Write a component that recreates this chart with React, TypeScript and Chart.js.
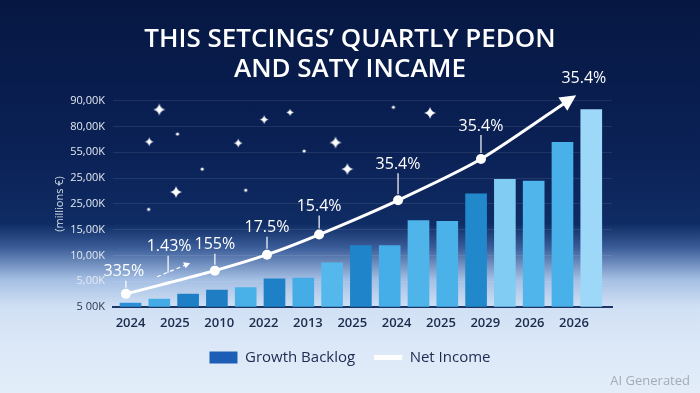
import React, { useEffect, useRef } from 'react';
import { Chart, registerables } from 'chart.js';

Chart.register(...registerables);

// ---- data ----
const titleLines = ['THIS SETCINGS\u2019 QUARTLY PEDON', 'AND SATY INCAME'];
const xLabels = ['2024', '2025', '2010', '2022', '2013', '2025', '2024', '2025', '2029', '2026', '2026'];
// y tick labels, for tick values 0..8 (bottom to top)
const yTickLabels = ['5 00K', '5,00K', '10,00K', '15,00K', '25,00K', '25,00K', '55,00K', '80,00K', '90,00K'];
const yTitle = '(millions \u20ac)';

const backlogValues = [0.15, 0.31, 0.5, 0.66, 0.75, 1.09, 1.12, 1.71, 2.38, 2.38, 3.35, 3.32, 4.39, 4.95, 4.89, 6.39, 7.66];
const barColors = [
  '#2b8fd6', '#45abe6', '#1e7fc6', '#1f7dc4', '#4ab0e8', '#1e80c6', '#45ace6', '#55b8ec', '#1f84c9',
  '#45ade7', '#4fb4ea', '#4ab2e9', '#2288cc', '#80ccf3', '#50b5eb', '#48b1e9', '#9dd8f8',
];

// Net income line (x in bar-index units, y in axis units)
const incomeX = [-0.16, 1.34, 2.93, 4.74, 6.55, 9.29, 12.17, 15.36];
const incomeY = [0.51, 0.94, 1.41, 2.03, 2.81, 4.14, 5.74, 8.13];
const incomeLabels = ['335%', '1.43%', '155%', '17.5%', '15.4%', '35.4%', '35.4%', '35.4%'];
const incomeKinds = ['dot', 'dash', 'dot', 'dot', 'dot', 'dot', 'dot', 'arrow'];

// decorative stars (x in bar-index units, y in axis units)
const starX = [1.0, 4.64, 5.54, 1.63, 0.65, 3.74, 7.12, 6.03, 7.53, 2.49, 1.58, 4.0, 0.63, 9.13, 10.4];
const starY = [7.66, 7.27, 7.55, 6.71, 6.41, 6.36, 6.38, 6.05, 5.35, 5.35, 4.46, 4.53, 3.79, 7.75, 7.53];
const starKinds = ['big', 'mid', 'small', 'dot', 'mid', 'mid', 'big', 'dot', 'big', 'dot', 'big', 'dot', 'dot', 'dot', 'big'];

// ---- layout / style helpers ----
const labelLift = [22, 36, 26, 27, 28, 36, 33, 19];
const labelShiftX = [-2, 0, 0, 0, 0, 0, 0, 11];
const X_MIN = -0.608;
const X_MAX = 16.72;
const LABEL_STEP = 1.54;

function makeSparkle(r: number): HTMLCanvasElement {
  const s = Math.ceil(r * 2 + 4);
  const c = document.createElement('canvas');
  c.width = s;
  c.height = s;
  const g = c.getContext('2d')!;
  const cx = s / 2;
  const cy = s / 2;
  g.fillStyle = '#ffffff';
  if (r < 2.2) {
    g.beginPath();
    g.arc(cx, cy, r, 0, Math.PI * 2);
    g.fill();
    return c;
  }
  const k = r * 0.18;
  g.beginPath();
  g.moveTo(cx, cy - r);
  g.quadraticCurveTo(cx + k, cy - k, cx + r, cy);
  g.quadraticCurveTo(cx + k, cy + k, cx, cy + r);
  g.quadraticCurveTo(cx - k, cy + k, cx - r, cy);
  g.quadraticCurveTo(cx - k, cy - k, cx, cy - r);
  g.fill();
  g.beginPath();
  g.arc(cx, cy, r * 0.3, 0, Math.PI * 2);
  g.fill();
  return c;
}

const annotationPlugin = {
  id: 'incomeAnnotations',
  afterDatasetsDraw(chart: any) {
    const meta = chart.getDatasetMeta(1);
    const ctx = chart.ctx as CanvasRenderingContext2D;
    const pts = meta.data;
    ctx.save();
    ctx.fillStyle = '#ffffff';
    ctx.strokeStyle = '#ffffff';
    ctx.font = '16px "Open Sans", sans-serif';
    ctx.textAlign = 'center';
    ctx.textBaseline = 'middle';
    pts.forEach((p: any, i: number) => {
      const kind = incomeKinds[i];
      const tx = p.x + labelShiftX[i];
      const ty = p.y - labelLift[i];
      ctx.fillText(incomeLabels[i], tx, ty);
      ctx.lineWidth = 1.2;
      ctx.setLineDash([]);
      if (kind === 'dot') {
        ctx.beginPath();
        ctx.moveTo(p.x, ty + 9);
        ctx.lineTo(p.x, p.y - 6);
        ctx.stroke();
      } else if (kind === 'dash') {
        ctx.beginPath();
        ctx.moveTo(p.x - 1, ty + 9);
        ctx.lineTo(p.x - 1, p.y - 10);
        ctx.stroke();
        ctx.setLineDash([4, 3]);
        ctx.beginPath();
        ctx.moveTo(p.x - 12, p.y - 6);
        ctx.lineTo(p.x + 17, p.y - 18);
        ctx.stroke();
        ctx.setLineDash([]);
        ctx.beginPath();
        ctx.moveTo(p.x + 21, p.y - 19.5);
        ctx.lineTo(p.x + 14, p.y - 20.5);
        ctx.lineTo(p.x + 16.5, p.y - 14.5);
        ctx.closePath();
        ctx.fill();
      } else if (kind === 'arrow') {
        let dx = p.x - (p.cp1x ?? pts[i - 1].x);
        let dy = p.y - (p.cp1y ?? pts[i - 1].y);
        if (Math.hypot(dx, dy) < 1) {
          dx = p.x - pts[i - 1].x;
          dy = p.y - pts[i - 1].y;
        }
        const len = Math.hypot(dx, dy);
        const ux = dx / len;
        const uy = dy / len;
        const nx = -uy;
        const ny = ux;
        const tipX = p.x + ux * 4;
        const tipY = p.y + uy * 4;
        const bx = p.x - ux * 12;
        const by = p.y - uy * 12;
        ctx.beginPath();
        ctx.moveTo(tipX, tipY);
        ctx.lineTo(bx + nx * 8, by + ny * 8);
        ctx.lineTo(bx - nx * 8, by - ny * 8);
        ctx.closePath();
        ctx.fill();
      }
    });
    ctx.restore();
  },
};

export default function App() {
  const canvasRef = useRef<HTMLCanvasElement | null>(null);

  useEffect(() => {
    const canvas = canvasRef.current;
    if (!canvas) return;
    const sparkles: Record<string, HTMLCanvasElement> = {
      big: makeSparkle(6),
      mid: makeSparkle(4.5),
      small: makeSparkle(3.5),
      dot: makeSparkle(1.6),
    };

    const chart = new Chart(canvas, {
      type: 'bar',
      data: {
        datasets: [
          {
            type: 'bar',
            label: 'Growth Backlog',
            data: backlogValues.map((v, i) => ({ x: i, y: v })),
            backgroundColor: barColors,
            borderWidth: 0,
            barThickness: 21,
            xAxisID: 'x',
            yAxisID: 'y',
            order: 2,
          } as any,
          {
            type: 'line',
            label: 'Net Income',
            data: incomeX.map((x, i) => ({ x, y: incomeY[i] })),
            borderColor: '#ffffff',
            backgroundColor: '#ffffff',
            borderWidth: 3,
            tension: 0.25,
            pointRadius: incomeKinds.map((k) => (k === 'dot' ? 5 : 0)),
            pointBackgroundColor: '#ffffff',
            pointBorderColor: '#ffffff',
            pointBorderWidth: 0,
            clip: false,
            xAxisID: 'x',
            yAxisID: 'y',
            order: 0,
          } as any,
          {
            type: 'line',
            label: 'stars',
            data: starX.map((x, i) => ({ x, y: starY[i] })),
            showLine: false,
            pointStyle: starKinds.map((k) => sparkles[k]),
            pointRadius: 5,
            xAxisID: 'x',
            yAxisID: 'y',
            order: 3,
          } as any,
        ],
      },
      options: {
        responsive: false,
        animation: false,
        events: [],
        layout: { padding: { left: 0, right: 0, top: 0, bottom: 18 } },
        scales: {
          x: {
            type: 'linear',
            display: false,
            offset: false,
            min: X_MIN,
            max: X_MAX,
          } as any,
          xt: {
            type: 'linear',
            position: 'bottom',
            offset: false,
            min: X_MIN,
            max: X_MAX,
            grid: { display: false, drawTicks: false, offset: false },
            border: { display: true, color: '#1b3566', width: 2 },
            afterBuildTicks: (scale: any) => {
              scale.ticks = xLabels.map((_, i) => ({ value: i * LABEL_STEP }));
            },
            afterFit: (scale: any) => {
              scale.height = 24;
            },
            ticks: {
              autoSkip: false,
              maxRotation: 0,
              padding: 8,
              color: '#1c2b4b',
              font: { family: '"Open Sans", sans-serif', size: 13, weight: '600' },
              callback: (_v: any, i: number) => xLabels[i],
            },
          } as any,
          y: {
            type: 'linear',
            position: 'left',
            min: 0,
            max: 8,
            afterFit: (scale: any) => {
              scale.width = 113;
            },
            grid: { color: 'rgba(255,255,255,0.09)', drawTicks: false },
            border: { display: false },
            ticks: {
              stepSize: 1,
              padding: 8,
              font: { family: '"Open Sans", sans-serif', size: 11 },
              color: (c: any) => (c.tick && c.tick.value === 0 ? '#2a3552' : '#e3e9f2'),
              callback: (v: any) => yTickLabels[Math.round(v)] ?? '',
            },
            title: {
              display: true,
              text: yTitle,
              color: '#d5deeb',
              font: { family: '"Open Sans", sans-serif', size: 11 },
              padding: { top: 53, bottom: 0 },
            },
          } as any,
          yr: {
            type: 'linear',
            position: 'right',
            min: 0,
            max: 8,
            grid: { display: false, drawTicks: false },
            border: { display: false },
            ticks: { display: false },
            afterFit: (scale: any) => {
              scale.width = 88;
            },
          } as any,
        },
        plugins: {
          title: {
            display: true,
            text: titleLines,
            color: '#ffffff',
            font: { family: '"Open Sans", sans-serif', size: 26, weight: '600', lineHeight: 1.15 },
            padding: { top: 25, bottom: 16 },
          },
          legend: {
            display: true,
            position: 'bottom',
            labels: {
              usePointStyle: true,
              pointStyleWidth: 28,
              boxHeight: 12,
              padding: 19,
              color: '#1b2a4e',
              font: { family: '"Open Sans", sans-serif', size: 15 },
              generateLabels: () => [
                {
                  text: 'Growth Backlog',
                  fillStyle: '#1c5db6',
                  strokeStyle: '#1c5db6',
                  lineWidth: 0,
                  pointStyle: 'rect',
                  hidden: false,
                  datasetIndex: 0,
                  fontColor: '#1b2a4e',
                },
                {
                  text: 'Net Income',
                  fillStyle: '#ffffff',
                  strokeStyle: '#ffffff',
                  lineWidth: 5,
                  pointStyle: 'line',
                  hidden: false,
                  datasetIndex: 1,
                  fontColor: '#1b2a4e',
                },
              ],
            },
          } as any,
          tooltip: { enabled: false },
        },
      },
      plugins: [annotationPlugin],
    });

    return () => {
      chart.destroy();
    };
  }, []);

  return (
    <div
      style={{
        position: 'fixed',
        left: 0,
        top: 0,
        width: 700,
        height: 393,
        overflow: 'hidden',
        background:
          'linear-gradient(180deg, #061742 0%, #0b2257 40%, #0f2c64 57%, #3a5c98 63%, #a3bee3 71%, #d0e0f4 78%, #dce8f8 88%, #e2edf9 100%)',
      }}
    >
      <canvas ref={canvasRef} width={700} height={393} style={{ display: 'block' }} />
      <span
        style={{
          position: 'absolute',
          right: 10,
          bottom: 4,
          fontFamily: '"Open Sans", sans-serif',
          fontSize: 13,
          color: '#a3abb7',
        }}
      >
        AI Generated
      </span>
    </div>
  );
}
